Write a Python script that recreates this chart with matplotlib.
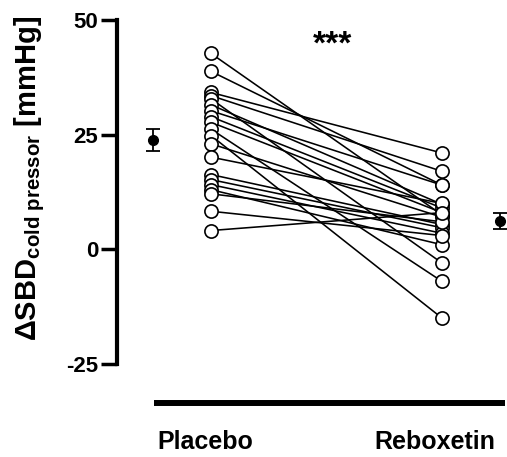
import matplotlib
matplotlib.use("Agg")
import matplotlib.pyplot as plt
import numpy as np

plt.rcParams['font.family'] = ['Liberation Sans', 'DejaVu Sans']
plt.rcParams['mathtext.fontset'] = 'custom'
plt.rcParams['mathtext.bf'] = 'Liberation Sans:bold'
plt.rcParams['mathtext.rm'] = 'Liberation Sans:bold'
plt.rcParams['mathtext.it'] = 'Liberation Sans:bold'

groups = ["Placebo", "Reboxetin"]
placebo = [42.7, 38.8, 34.2, 33.5, 32.8, 31.5, 30.2, 28.9, 27.7, 26.2,
           24.8, 23.0, 20.1, 16.3, 15.2, 14.1, 13.0, 12.1, 8.3, 4.1]
reboxetin = [7.5, 14.0, 21.0, 17.0, -3.0, 9.8, 14.0, 9.0, 8.0, -7.0,
             -15.0, 7.0, 10.0, 5.4, 4.7, 3.5, 1.0, 6.0, 3.0, 8.0]
yticks = [-25, 0, 25, 50]

fig = plt.figure(figsize=(5.07, 4.57), dpi=100)
W, H = 507, 457
ax = fig.add_axes([117 / W, 1 - 364 / H, (507 - 117) / W, (364 - 20) / H])

xp, xr = 1.0, 2.0
xpm, xrm = 0.75, 2.25
ax.set_xlim(0.593, 2.281)
ax.set_ylim(-25, 50)

pl = np.array(placebo)
rb = np.array(reboxetin)
for a, b in zip(pl, rb):
    ax.plot([xp, xr], [a, b], color='black', lw=1.15, zorder=2)
ax.plot(np.full(len(pl), xp), pl, 'o', ms=9.5, mfc='white', mec='black', mew=1.2, zorder=3, clip_on=False)
ax.plot(np.full(len(rb), xr), rb, 'o', ms=9.5, mfc='white', mec='black', mew=1.2, zorder=3, clip_on=False)

for x, d in [(xpm, pl), (xrm, rb)]:
    m = d.mean()
    sem = d.std(ddof=1) / np.sqrt(len(d))
    ax.errorbar([x], [m], yerr=[sem], fmt='o', color='black', ms=7, capsize=5,
                elinewidth=1.3, capthick=1.3, clip_on=False, zorder=4)

ax.spines['top'].set_visible(False)
ax.spines['right'].set_visible(False)
ax.spines['bottom'].set_visible(False)
ax.spines['left'].set_linewidth(3.0)
ax.set_xticks([])
ax.set_yticks(yticks)
ax.set_yticklabels([str(t) for t in yticks], fontsize=16, fontweight='bold')
ax.tick_params(axis='y', length=11.5, width=2.5, pad=2)

ax.set_ylabel(r'$\mathbf{\Delta SBD_{cold\ pressor}\ [mmHg]}$', fontsize=21)
ax.yaxis.set_label_coords(-0.18, 0.54)

# group bar line and labels
ax.plot([0.752, 2.272], [-33.5, -33.5], color='black', lw=4.3, clip_on=False, solid_capstyle='butt')
ax.text(xp - 0.025, -42.0, groups[0], ha='center', va='center', fontsize=18, fontweight='bold', clip_on=False)
ax.text(xr - 0.03, -42.0, groups[1], ha='center', va='center', fontsize=18, fontweight='bold', clip_on=False)

ax.text(1.526, 44.5, '***', ha='center', va='center', fontsize=24, fontweight='bold')

fig.savefig('out.png', dpi=100)
